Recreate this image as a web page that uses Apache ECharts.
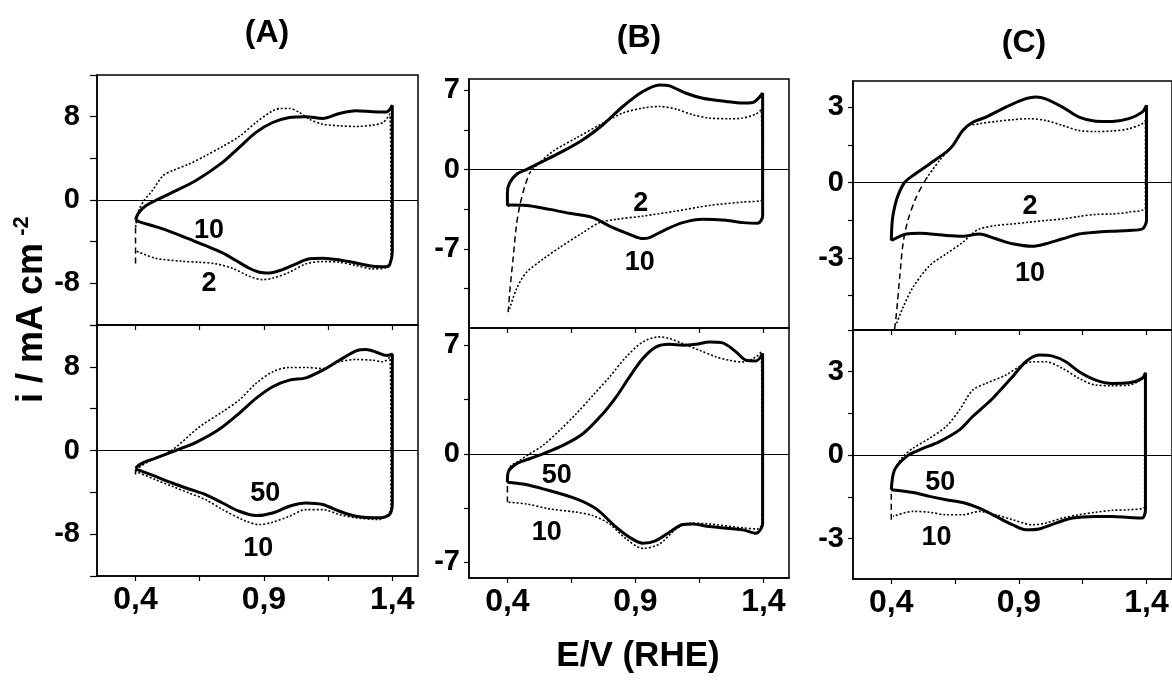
<!DOCTYPE html>
<html>
<head>
<meta charset="utf-8">
<script src="https://cdn.jsdelivr.net/npm/echarts@6/dist/echarts.min.js"></script>
<style>html,body{margin:0;padding:0;background:#fff}#c{width:1172px;height:680px}</style>
</head>
<body>
<div id="c"></div>
<script>
// ---------- data: [E (V vs RHE), i (mA cm^-2)] along each voltammetric loop ----------
const A_top_10 = [[0.400,-1.9],[0.413,-1.2],[0.440,-0.55],[0.478,-0.05],[0.543,0.73],[0.634,1.85],[0.739,3.61],[0.804,5.05],[0.869,6.49],[0.934,7.44],[0.999,7.92],[1.064,8.0],[1.129,7.83],[1.194,8.31],[1.259,8.56],[1.324,8.47],[1.377,8.45],[1.400,9.1],
  [1.400,-5.0],[1.390,-6.2],[1.377,-6.4],[1.324,-6.36],[1.259,-6.04],[1.194,-5.75],[1.129,-5.59],[1.077,-5.65],[1.025,-6.13],[0.973,-6.68],[0.921,-7.0],[0.882,-6.93],[0.843,-6.55],[0.791,-5.81],[0.739,-5.08],[0.673,-4.38],[0.608,-3.74],[0.543,-3.1],[0.478,-2.56],[0.413,-2.08],[0.400,-1.9]];
const A_top_2 = [[0.400,-6.1],[0.400,-2.6],[0.413,-1.02],[0.433,-0.06],[0.465,0.89],[0.507,2.33],[0.543,2.81],[0.608,3.45],[0.673,4.25],[0.739,5.14],[0.804,6.1],[0.869,7.44],[0.934,8.56],[0.966,8.79],[0.999,8.79],[1.038,8.40],[1.077,7.76],[1.129,7.28],[1.194,7.12],[1.259,7.06],[1.324,7.19],[1.364,7.44],[1.390,8.24],
  [1.395,-5.5],[1.377,-6.45],[1.324,-6.61],[1.259,-6.29],[1.194,-5.97],[1.129,-5.91],[1.064,-6.13],[0.999,-6.93],[0.934,-7.51],[0.895,-7.64],[0.843,-7.32],[0.778,-6.55],[0.713,-6.13],[0.647,-5.97],[0.582,-5.88],[0.478,-5.59],[0.400,-4.86]];
const A_bot_50 = [[0.400,-1.68],[0.426,-1.21],[0.478,-0.73],[0.556,0.0],[0.634,0.76],[0.726,2.03],[0.804,3.56],[0.869,4.98],[0.934,6.1],[0.999,6.73],[1.064,6.95],[1.129,7.68],[1.194,8.63],[1.259,9.52],[1.298,9.65],[1.338,9.4],[1.377,9.08],[1.400,9.2],
  [1.400,-5.0],[1.390,-6.1],[1.350,-6.44],[1.259,-6.29],[1.194,-5.81],[1.129,-5.17],[1.064,-5.02],[0.999,-5.33],[0.934,-5.97],[0.869,-6.22],[0.804,-5.81],[0.739,-5.02],[0.673,-4.22],[0.608,-3.68],[0.543,-3.11],[0.478,-2.48],[0.426,-2.0],[0.400,-1.78]];
const A_bot_10 = [[0.400,-2.3],[0.400,-1.8],[0.452,-1.05],[0.543,0.06],[0.647,2.22],[0.739,3.71],[0.804,4.83],[0.869,6.41],[0.934,7.52],[0.999,7.94],[1.064,7.94],[1.129,7.84],[1.194,8.48],[1.259,8.7],[1.324,8.63],[1.364,8.48],[1.390,8.9],
  [1.395,-5.5],[1.350,-6.6],[1.259,-6.44],[1.194,-6.13],[1.129,-5.65],[1.064,-5.65],[0.999,-6.29],[0.934,-6.86],[0.882,-7.08],[0.830,-6.76],[0.739,-5.65],[0.673,-4.7],[0.608,-4.06],[0.543,-3.43],[0.478,-2.79],[0.400,-2.0]];
const B_top_10 = [[0.400,-3.2],[0.400,-2.0],[0.409,-1.17],[0.435,-0.44],[0.474,0.0],[0.513,0.44],[0.539,0.73],[0.604,1.47],[0.695,2.64],[0.773,3.96],[0.851,5.57],[0.929,6.89],[0.994,7.48],[1.033,7.39],[1.098,6.74],[1.163,6.3],[1.254,6.01],[1.319,5.87],[1.358,5.92],[1.397,6.74],
  [1.397,-4.1],[1.378,-4.75],[1.319,-4.69],[1.254,-4.49],[1.163,-4.4],[1.085,-4.69],[1.020,-5.28],[0.955,-6.01],[0.929,-6.1],[0.877,-5.72],[0.799,-4.99],[0.734,-4.25],[0.643,-3.87],[0.565,-3.52],[0.474,-3.17],[0.409,-3.14],[0.400,-3.2]];
const B_top_2 = [[0.403,-12.6],[0.409,-10.85],[0.422,-7.92],[0.435,-4.99],[0.448,-3.23],[0.468,-1.47],[0.487,-0.29],[0.513,0.35],[0.578,1.61],[0.669,2.79],[0.773,4.1],[0.851,4.99],[0.929,5.43],[0.994,5.57],[1.059,5.34],[1.124,4.84],[1.189,4.55],[1.267,4.49],[1.319,4.55],[1.371,4.9],[1.391,5.28],
  [1.395,-2.64],[1.319,-2.87],[1.189,-3.17],[1.059,-3.67],[0.929,-4.11],[0.825,-4.4],[0.760,-4.69],[0.695,-5.57],[0.604,-6.89],[0.539,-7.92],[0.474,-9.09],[0.435,-10.56],[0.409,-12.3]];
const B_bot_50 = [[0.400,-1.83],[0.403,-1.18],[0.435,-0.65],[0.487,-0.32],[0.539,0.0],[0.617,0.54],[0.695,1.29],[0.773,2.58],[0.825,3.66],[0.877,4.95],[0.929,6.13],[0.981,6.88],[1.033,7.05],[1.085,6.99],[1.137,7.05],[1.189,7.2],[1.241,7.14],[1.293,6.56],[1.332,6.02],[1.371,5.98],[1.397,6.45],
  [1.397,-4.5],[1.371,-5.12],[1.319,-4.9],[1.189,-4.69],[1.124,-4.52],[1.085,-4.56],[1.033,-5.05],[0.981,-5.59],[0.929,-5.76],[0.877,-5.38],[0.825,-4.73],[0.747,-3.55],[0.669,-2.9],[0.539,-2.26],[0.461,-1.95],[0.400,-1.83]];
const B_bot_10 = [[0.400,-3.12],[0.400,-1.6],[0.409,-0.86],[0.448,-0.43],[0.487,0.0],[0.539,0.54],[0.604,1.51],[0.669,2.58],[0.734,3.76],[0.799,4.95],[0.864,6.24],[0.929,7.2],[0.994,7.53],[1.033,7.42],[1.085,7.1],[1.150,6.67],[1.215,6.24],[1.267,6.02],[1.319,5.91],[1.371,6.24],[1.391,6.56],
  [1.395,-4.5],[1.378,-4.84],[1.319,-4.77],[1.189,-4.52],[1.111,-4.47],[1.059,-4.84],[0.994,-5.81],[0.929,-6.09],[0.864,-5.48],[0.799,-4.52],[0.734,-3.98],[0.669,-3.76],[0.565,-3.55],[0.474,-3.23],[0.403,-3.12]];
const C_top_10 = [[0.400,-2.31],[0.404,-1.51],[0.413,-0.98],[0.426,-0.52],[0.452,0.0],[0.485,0.28],[0.550,0.74],[0.615,1.21],[0.641,1.47],[0.680,2.07],[0.719,2.4],[0.771,2.6],[0.849,3.0],[0.914,3.29],[0.966,3.4],[1.005,3.33],[1.071,3.0],[1.136,2.6],[1.201,2.44],[1.266,2.43],[1.331,2.54],[1.383,2.8],[1.400,3.07],
  [1.400,-1.5],[1.383,-1.85],[1.331,-1.91],[1.266,-1.94],[1.201,-1.98],[1.136,-2.05],[1.071,-2.24],[1.005,-2.44],[0.953,-2.54],[0.875,-2.44],[0.810,-2.24],[0.745,-2.05],[0.680,-2.14],[0.615,-2.11],[0.511,-2.02],[0.459,-2.05],[0.400,-2.31]];
const C_top_2 = [[0.413,-5.83],[0.420,-5.23],[0.433,-3.77],[0.446,-2.44],[0.465,-1.51],[0.498,-0.58],[0.537,0.15],[0.589,0.88],[0.641,1.47],[0.693,2.2],[0.745,2.34],[0.810,2.43],[0.875,2.5],[0.940,2.54],[1.005,2.47],[1.071,2.27],[1.136,2.07],[1.201,2.03],[1.266,2.05],[1.331,2.14],[1.383,2.34],[1.396,2.47],
  [1.396,-0.98],[1.331,-1.18],[1.266,-1.25],[1.201,-1.27],[1.136,-1.35],[1.071,-1.45],[1.005,-1.51],[0.940,-1.58],[0.875,-1.65],[0.810,-1.71],[0.745,-1.85],[0.719,-2.02],[0.680,-2.38],[0.615,-2.84],[0.550,-3.31],[0.485,-4.17],[0.446,-4.97],[0.420,-5.63]];
const C_bot_50 = [[0.400,-1.24],[0.413,-0.53],[0.459,-0.05],[0.511,0.19],[0.589,0.49],[0.667,0.91],[0.719,1.39],[0.797,2.04],[0.875,2.82],[0.927,3.36],[0.979,3.6],[1.032,3.56],[1.084,3.36],[1.136,3.0],[1.201,2.7],[1.266,2.58],[1.331,2.6],[1.383,2.76],[1.396,2.96],
  [1.396,-1.96],[1.383,-2.26],[1.331,-2.24],[1.266,-2.2],[1.201,-2.2],[1.110,-2.26],[1.045,-2.44],[0.979,-2.65],[0.927,-2.68],[0.875,-2.5],[0.810,-2.2],[0.745,-1.9],[0.680,-1.7],[0.615,-1.6],[0.550,-1.48],[0.485,-1.34],[0.400,-1.24]];
const C_bot_10 = [[0.400,-2.32],[0.400,-1.2],[0.413,-0.53],[0.446,-0.05],[0.485,0.25],[0.550,0.61],[0.615,1.03],[0.667,1.62],[0.719,2.34],[0.771,2.58],[0.849,2.88],[0.901,3.18],[0.953,3.36],[1.005,3.36],[1.071,3.12],[1.136,2.76],[1.201,2.52],[1.266,2.5],[1.331,2.52],[1.377,2.7],[1.393,2.88],
  [1.393,-1.84],[1.331,-1.96],[1.266,-1.98],[1.201,-2.05],[1.136,-2.14],[1.071,-2.26],[1.005,-2.44],[0.953,-2.5],[0.875,-2.32],[0.810,-2.14],[0.745,-2.02],[0.680,-2.14],[0.615,-2.14],[0.550,-2.05],[0.485,-2.02],[0.407,-2.2]];

// curve annotations (cycle numbers): [E, i, text]
const A_top_notes = [[0.686,-2.97,'10'],[0.686,-8.05,'2']];
const A_bot_notes = [[0.905,-4.16,'50'],[0.878,-9.34,'10']];
const B_top_notes = [[0.921,-2.99,'2'],[0.917,-8.19,'10']];
const B_bot_notes = [[0.593,-1.4,'50'],[0.554,-5.08,'10']];
const C_top_notes = [[0.944,-0.96,'2'],[0.944,-3.63,'10']];
const C_bot_notes = [[0.592,-0.99,'50'],[0.577,-2.96,'10']];

// axis ticks / labels
const xTicks = [0.4, 0.65, 0.9, 1.15, 1.4];
const xLabels = [0.4, 0.9, 1.4];
const A_yTicks = [-12,-8,-4,0,4,8,12], A_yLabels = [-8,0,8];
const B_yTicks = [-10.5,-7,-3.5,0,3.5,7], B_yLabels = [-7,0,7];
const C_yTicks = [-4.5,-3,-1.5,0,1.5,3,4.5], C_yLabels = [-3,0,3];
const panelTitles = ['(A)','(B)','(C)'];
const xName = 'E/V (RHE)';
const yName = 'i / mA cm';
const ySup = '-2';

// ---------- layout ----------
const FONT = '"Liberation Sans", Arial, Helvetica, sans-serif';
const panels = [
  {grid:{left:97, top:75, width:321, height:250}, y:[-12,12], yt:A_yTicks, yl:A_yLabels, showX:false, solid:A_top_10, dot:A_top_2, dashN:2, notes:A_top_notes, lm:17, tl:7},
  {grid:{left:97, top:325, width:321, height:251}, y:[-12,12], yt:A_yTicks, yl:A_yLabels, showX:true, solid:A_bot_50, dot:A_bot_10, dashN:2, notes:A_bot_notes, lm:17, tl:7},
  {grid:{left:469, top:79, width:320, height:249}, y:[-14,8], yt:B_yTicks, yl:B_yLabels, showX:false, solid:B_top_10, dot:B_top_2, dashN:7, notes:B_top_notes, lm:9, tl:5},
  {grid:{left:469, top:328, width:320, height:250}, y:[-8,8.1], yt:B_yTicks.filter(v=>v>-8), yl:B_yLabels, showX:true, solid:B_bot_50, dot:B_bot_10, dashN:2, notes:B_bot_notes, lm:9, tl:5},
  {grid:{left:853, top:81, width:321, height:249}, y:[-5.87,4.04], yt:C_yTicks.filter(v=>v<4), yl:C_yLabels, showX:false, solid:C_top_10, dot:C_top_2, dashN:7, notes:C_top_notes, lm:9, tl:5},
  {grid:{left:853, top:330, width:321, height:249}, y:[-4.45,4.5], yt:C_yTicks.filter(v=>v>-4.45), yl:C_yLabels, showX:true, solid:C_bot_50, dot:C_bot_10, dashN:2, notes:C_bot_notes, lm:9, tl:5}
];

const grid = [], xAxis = [], yAxis = [], series = [];
panels.forEach((p, i) => {
  grid.push(Object.assign({show:true, borderColor:'#000', borderWidth:1.5, backgroundColor:'transparent', containLabel:false}, p.grid));
  xAxis.push({
    type:'value', gridIndex:i, min:0.25, max:1.5, position:'bottom',
    axisLine:{show:true, onZero:false, lineStyle:{color:'#000', width:1.5}},
    axisTick:{show:true, inside:false, length:5, customValues:xTicks, lineStyle:{color:'#000', width:1.2}},
    axisLabel:{show:p.showX, customValues:xLabels, margin:8, color:'#000', fontFamily:FONT, fontWeight:'bold', fontSize:32,
      formatter:v => v.toFixed(1).replace('.', ',')},
    splitLine:{show:false}
  });
  yAxis.push({
    type:'value', gridIndex:i, min:p.y[0], max:p.y[1],
    axisLine:{show:true, onZero:false, lineStyle:{color:'#000', width:1.5}},
    axisTick:{show:true, inside:false, length:p.tl, customValues:p.yt, lineStyle:{color:'#000', width:1.2}},
    axisLabel:{show:true, customValues:p.yl, margin:p.lm, color:'#000', fontFamily:FONT, fontWeight:'bold', fontSize:29,
      formatter:v => String(Math.round(v))},
    splitLine:{show:false}
  });
  series.push({
    type:'line', xAxisIndex:i, yAxisIndex:i, data:p.solid, showSymbol:false, smooth:0.3,
    lineStyle:{color:'#000', width:3}, z:4, silent:true,
    markLine:{silent:true, symbol:'none', label:{show:false}, lineStyle:{color:'#000', width:1.2, type:'solid'}, data:[{yAxis:0}]}
  });
  series.push({
    type:'line', xAxisIndex:i, yAxisIndex:i, data:p.dot.slice(0, p.dashN), showSymbol:false, smooth:0.3,
    lineStyle:{color:'#000', width:1.5, type:[6,4]}, z:3, silent:true
  });
  series.push({
    type:'line', xAxisIndex:i, yAxisIndex:i, data:p.dot.slice(p.dashN - 1), showSymbol:false, smooth:0.3,
    lineStyle:{color:'#000', width:1.6, type:[2,2]}, z:3, silent:true
  });
  series.push({
    type:'scatter', xAxisIndex:i, yAxisIndex:i, symbolSize:0, itemStyle:{color:'#000', opacity:1}, silent:true, z:6,
    data:p.notes.map(n => ({value:[n[0], n[1]], name:n[2]})),
    label:{show:true, position:'inside', formatter:'{b}', color:'#000', opacity:1, textBorderWidth:0, textShadowBlur:0,
      fontFamily:FONT, fontWeight:'bold', fontSize:27},
    emphasis:{disabled:true}
  });
});

const txt = (x, y, text, size, rot) => ({
  type:'text', x:x, y:y, rotation:rot || 0, silent:true,
  style:{text:text, fill:'#000', font:'bold ' + size + 'px ' + FONT, textAlign:'center', textVerticalAlign:'middle', align:'center', verticalAlign:'middle'}
});

const chart = echarts.init(document.getElementById('c'), null, {renderer:'canvas'});
chart.setOption({
  backgroundColor:'#fff',
  animation:false,
  grid, xAxis, yAxis, series,
  graphic:[
    txt(267, 33, panelTitles[0], 32),
    txt(639, 38, panelTitles[1], 32),
    txt(1024, 43, panelTitles[2], 32),
    txt(638, 656, xName, 35),
    txt(32, 323, yName, 36, Math.PI / 2),
    txt(22, 226, ySup, 22, Math.PI / 2)
  ]
});
</script>
</body>
</html>
